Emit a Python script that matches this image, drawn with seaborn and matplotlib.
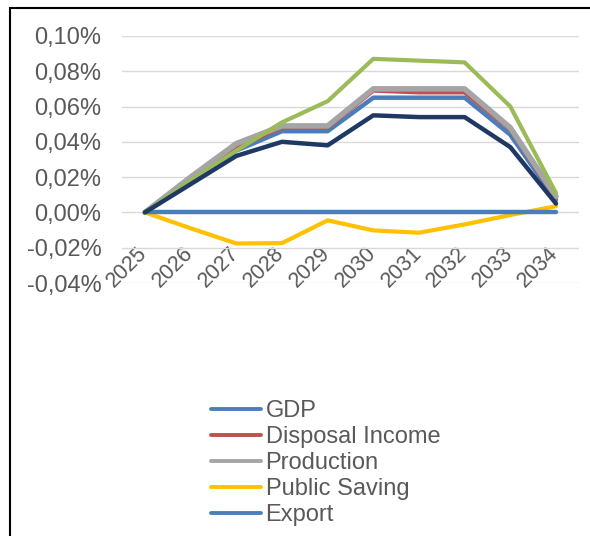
import numpy as np
import pandas as pd
import matplotlib
matplotlib.use("Agg")
import matplotlib.pyplot as plt
import seaborn as sns
from matplotlib.patches import Rectangle
from matplotlib.ticker import FuncFormatter
from matplotlib.transforms import ScaledTranslation

years = [str(y) for y in range(2025, 2035)]

gdp = [0.0, 0.019, 0.035, 0.046, 0.046, 0.065, 0.065, 0.065, 0.044, 0.007]
disposal_income = [0.0, 0.020, 0.037, 0.048, 0.048, 0.069, 0.068, 0.068, 0.047, 0.008]
production = [0.0, 0.020, 0.039, 0.049, 0.049, 0.070, 0.070, 0.070, 0.048, 0.009]
public_saving = [0.0, -0.009, -0.0176, -0.0174, -0.0045, -0.0102, -0.0115, -0.0068, -0.0015, 0.0035]
export = [0.0] * 10
series_6 = [0.0, 0.018, 0.035, 0.051, 0.063, 0.087, 0.086, 0.085, 0.060, 0.011]
series_7 = [0.0, 0.016, 0.032, 0.040, 0.038, 0.055, 0.054, 0.054, 0.037, 0.005]

names = ["GDP", "Disposal Income", "Production", "Public Saving", "Export", "Series 6", "Series 7"]
values = [gdp, disposal_income, production, public_saving, export, series_6, series_7]
colors = ["#4A7EBB", "#C0504D", "#A5A5A5", "#FFC000", "#4A7EBB", "#9BBB59", "#1F3864"]
widths = [3.2, 3.0, 4.0, 3.0, 3.2, 3.0, 3.2]

df = pd.DataFrame({"year": years * len(names),
                   "series": np.repeat(names, len(years)),
                   "value": np.concatenate(values)})
df["x"] = np.tile(np.arange(len(years)), len(names))

sns.set_theme(style="white")
plt.rcParams["font.family"] = ["Liberation Sans", "DejaVu Sans"]

fig = plt.figure(figsize=(5.9, 5.36), dpi=100)
ax = fig.add_axes([0.207, 0.472, 0.774, 0.461])

for name, col, lw in zip(names, colors, widths):
    sub = df[df["series"] == name]
    sns.lineplot(data=sub, x="x", y="value", color=col, linewidth=lw,
                 ax=ax, label=name, legend=False)

ax.set_xlim(-0.5, len(years) - 0.5)
ax.set_ylim(-0.04, 0.10)
ax.set_yticks(np.arange(-0.04, 0.101, 0.02))
ax.yaxis.set_major_formatter(FuncFormatter(lambda v, p: f"{v:.2f}%".replace(".", ",")))
ax.set_xticks(range(len(years)))
ax.set_xticklabels(years)
ax.grid(axis="y", color="#D9D9D9", linewidth=1)
ax.set_axisbelow(True)
for s in ["top", "right", "left", "bottom"]:
    ax.spines[s].set_visible(False)
ax.spines["bottom"].set_position(("data", 0))
ax.tick_params(axis="y", labelsize=17, colors="#595959", length=0, pad=15)
ax.tick_params(axis="x", labelsize=15.5, colors="#595959", length=0, pad=6)
shift = ScaledTranslation(-0.08, -0.22, fig.dpi_scale_trans)
for lab in ax.get_xticklabels():
    lab.set_rotation(45)
    lab.set_ha("right")
    lab.set_va("top")
    lab.set_rotation_mode("anchor")
    lab.set_transform(lab.get_transform() + shift)
ax.set_xlabel("")
ax.set_ylabel("")

handles, labels = ax.get_legend_handles_labels()
leg = fig.legend(handles[:5], labels[:5], loc="upper left", bbox_to_anchor=(0.322, 0.293),
                 frameon=False, fontsize=17, handlelength=2.1, handletextpad=0.2,
                 labelspacing=0.165, labelcolor="#595959")
for h in leg.get_lines():
    h.set_linewidth(2.8)

fig.patches.append(Rectangle((10 / 590, -0.1), 1.2, 1 - 8 / 536 + 0.1, transform=fig.transFigure,
                             fill=False, edgecolor="black", linewidth=1.5))

fig.savefig("out.png", dpi=100)
